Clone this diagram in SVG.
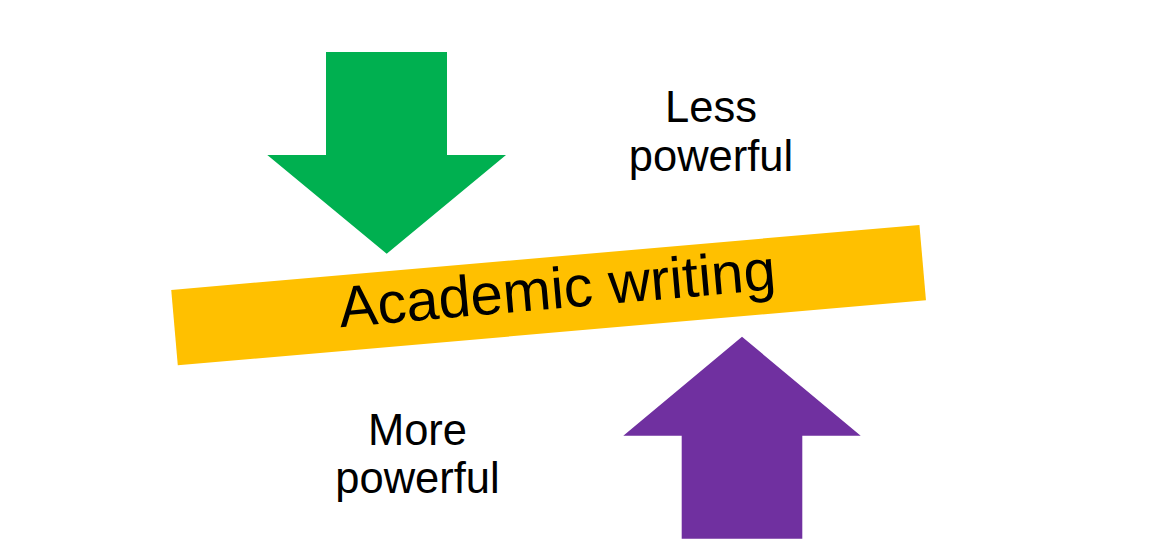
<svg xmlns="http://www.w3.org/2000/svg" width="1153" height="557" viewBox="0 0 1153 557">
<style>
text { font-family: "Liberation Sans", Arial, sans-serif; fill: #000; text-anchor: middle; }
.lbl { font-size: 43.5px; }
</style>
<rect width="1153" height="557" fill="#fff"/>
<g id="green-arrow">
<polygon points="326,52 447,52 447,155 506,155 386.7,253.7 267.3,155 326,155" fill="#00B050"/>
</g>
<g id="purple-arrow">
<polygon points="742,336.7 860.7,435.7 802.3,435.7 802.3,538.7 681.7,538.7 681.7,435.7 623.3,435.7" fill="#7030A0"/>
</g>
<g id="academic-writing" transform="translate(548.6,295.1) rotate(-4.97)">
<rect x="-375.5" y="-37.8" width="751" height="75.6" fill="#FFC000"/>
<text x="9" y="14" font-size="58">Academic writing</text>
</g>
<g id="less-powerful">
<text class="lbl" x="711" y="121.7">Less</text>
<text class="lbl" x="711" y="170.7">powerful</text>
</g>
<g id="more-powerful">
<text class="lbl" x="417.5" y="445">More</text>
<text class="lbl" x="417.5" y="493">powerful</text>
</g>
<g id="connectors"></g>
</svg>
